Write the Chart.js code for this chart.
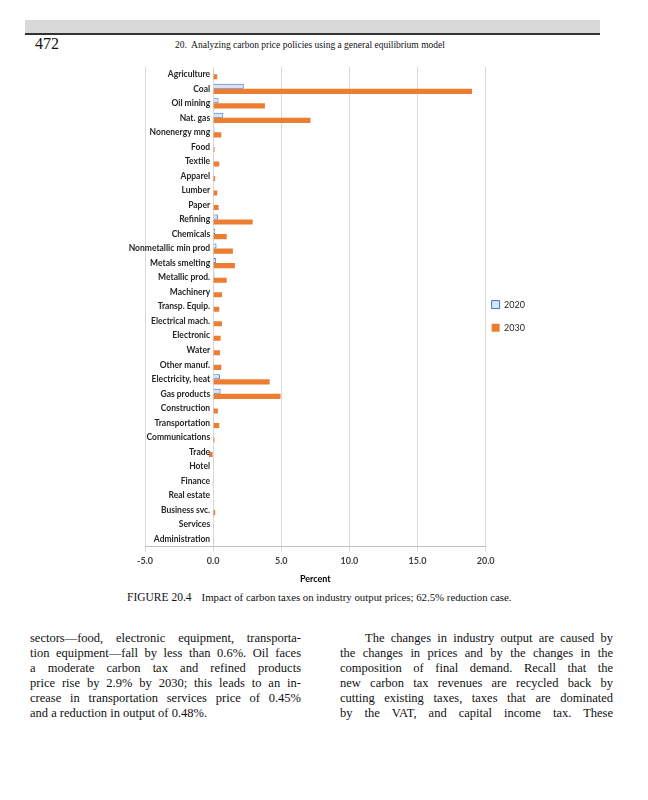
<!DOCTYPE html>
<html>
<head>
<meta charset="utf-8">
<script src="https://cdn.jsdelivr.net/npm/chart.js@4.4.0/dist/chart.umd.min.js"></script>
<style>
  html, body { margin: 0; padding: 0; background: #fff; }
  body { width: 648px; height: 800px; position: relative; overflow: hidden; font-family: "Liberation Serif", serif; color: #111; }
  .band { position: absolute; left: 25px; top: 20px; width: 575px; height: 13px; background: #d9d9d9; border-bottom: 2px solid #333; }
  .pageno { position: absolute; left: 35px; top: 35px; font-size: 16px; }
  .running { position: absolute; left: 175px; top: 40px; font-size: 9.5px; }
  #wrap { position: absolute; left: 0; top: 60px; width: 648px; height: 530px; }
  .caption { position: absolute; left: 127px; top: 591px; font-size: 10.8px; white-space: nowrap; }
  .caption span { font-size: 11.5px; margin-right: 10px; }
  .col { position: absolute; top: 631px; font-size: 12.5px; line-height: 15px; }
  .col div { text-align: justify; text-align-last: justify; white-space: nowrap; }
  .col div.last { text-align-last: left; }
  .left { left: 30px; width: 271px; }
  .right { left: 340px; width: 273px; }
</style>
</head>
<body>
<div class="band"></div>
<div class="pageno">472</div>
<div class="running">20.&nbsp; Analyzing carbon price policies using a general equilibrium model</div>
<div id="wrap"><canvas id="barChart"></canvas></div>
<div class="caption"><span>FIGURE 20.4</span>Impact of carbon taxes on industry output prices; 62.5% reduction case.</div>
<div class="col left">
  <div>sectors—food, electronic equipment, transporta-</div>
  <div>tion equipment—fall by less than 0.6%. Oil faces</div>
  <div>a moderate carbon tax and refined products</div>
  <div>price rise by 2.9% by 2030; this leads to an in-</div>
  <div>crease in transportation services price of 0.45%</div>
  <div class="last">and a reduction in output of 0.48%.</div>
</div>
<div class="col right">
  <div>&nbsp;&nbsp;&nbsp;&nbsp;The changes in industry output are caused by</div>
  <div>the changes in prices and by the changes in the</div>
  <div>composition of final demand. Recall that the</div>
  <div>new carbon tax revenues are recycled back by</div>
  <div>cutting existing taxes, taxes that are dominated</div>
  <div>by the VAT, and capital income tax. These</div>
</div>
<script>
// industries, top to bottom
const industries = ["Agriculture", "Coal", "Oil mining", "Nat. gas", "Nonenergy mng", "Food", "Textile",
    "Apparel", "Lumber", "Paper", "Refining", "Chemicals", "Nonmetallic min prod", "Metals smelting",
    "Metallic prod.", "Machinery", "Transp. Equip.", "Electrical mach.", "Electronic", "Water",
    "Other manuf.", "Electricity, heat", "Gas products", "Construction", "Transportation",
    "Communications", "Trade", "Hotel", "Finance", "Real estate", "Business svc.", "Services",
    "Administration"];

// % change in output price
const price2020 = [0.05, 2.25, 0.4, 0.75, 0.1, 0.03, 0.05, 0.03, 0.03, 0.05, 0.35, 0.15, 0.25, 0.2,
    0.1, 0.08, 0.05, 0.07, 0.05, 0.05, 0.06, 0.5, 0.55, 0.05, 0.07, 0.03, -0.05, 0.02, -0.03, 0.02,
    0.05, 0.03, 0.03];
const price2030 = [0.3, 19.0, 3.8, 7.15, 0.6, 0.1, 0.45, 0.15, 0.3, 0.4, 2.9, 1.0, 1.45, 1.6,
    1.0, 0.65, 0.45, 0.65, 0.55, 0.5, 0.6, 4.15, 4.95, 0.35, 0.45, 0.1, -0.3, 0.0, -0.05, 0.0,
    0.15, 0.05, 0.05];

const xTicks = [-5, 0, 5, 10, 15, 20];

// industry names sit just left of the zero line, like the excel chart
const zeroAxisLabels = {
    id: 'zeroAxisLabels',
    afterDraw(chart) {
        const ctx = chart.ctx;
        const xs = chart.scales.x, ys = chart.scales.y;
        const x0 = xs.getPixelForValue(0);
        ctx.save();
        ctx.font = 'bold 8.5px Lato';
        ctx.fillStyle = '#262626';
        ctx.textAlign = 'right';
        ctx.textBaseline = 'middle';
        industries.forEach(function (name, i) {
            ctx.fillText(name, x0 - 3, ys.getPixelForValue(i));
        });
        ctx.restore();
    }
};

const barChart = document.getElementById('barChart');
let chart = new Chart(barChart, {
    type: 'bar',
    data: {
        labels: industries,
        datasets: [{
            label: '2020',
            data: price2020,
            backgroundColor: '#dae3f3',
            borderColor: '#4472c4',
            borderWidth: 1,
            categoryPercentage: 0.7,
            barPercentage: 1.0
        }, {
            label: '2030',
            data: price2030,
            backgroundColor: '#ed7d31',
            borderColor: '#ed7d31',
            borderWidth: 0,
            categoryPercentage: 0.7,
            barPercentage: 1.0
        }]
    },
    options: {
        indexAxis: 'y',
        responsive: true,
        maintainAspectRatio: false,
        animation: false,
        layout: { padding: { left: 137, right: 113, top: 7, bottom: 6 } },
        scales: {
            x: {
                min: -5,
                max: 20,
                afterBuildTicks: function (axis) {
                    axis.ticks = xTicks.map(v => ({ value: v }));
                },
                ticks: {
                    color: '#404040',
                    font: { family: 'Lato', size: 9, weight: 'bold' },
                    padding: 4,
                    callback: v => v.toFixed(1)
                },
                grid: { color: '#d9d9d9', tickLength: 5 },
                border: { color: '#bfbfbf' },
                title: {
                    display: true,
                    text: 'Percent',
                    color: '#000',
                    font: { family: 'Lato', size: 9, weight: 'bold' },
                    padding: { top: 3, bottom: 0 }
                }
            },
            y: {
                ticks: { display: false },
                grid: { display: false },
                border: { display: false }
            }
        },
        plugins: {
            tooltip: { enabled: false },
            legend: {
                position: 'right',
                align: 'center',
                fullSize: false,
                title: { display: true, text: '', font: { size: 1, lineHeight: 1 }, padding: { top: 26, bottom: 0 } },
                labels: {
                    boxWidth: 8,
                    boxHeight: 8,
                    padding: 6,
                    color: '#262626',
                    font: { family: 'Lato', size: 9, lineHeight: 1.9 },
                    // one-line arrays so each entry takes the font line height
                    generateLabels: function (c) {
                        return Chart.defaults.plugins.legend.labels.generateLabels(c)
                            .map(item => Object.assign(item, { text: [item.text] }));
                    }
                }
            }
        }
    },
    plugins: [zeroAxisLabels]
});
</script>
</body>
</html>
